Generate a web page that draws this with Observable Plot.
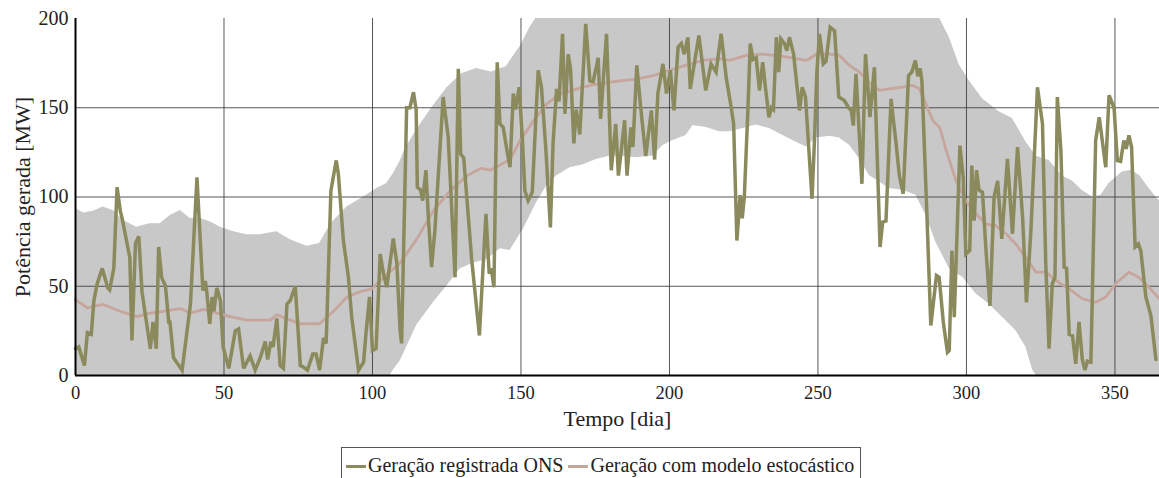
<!DOCTYPE html>
<html>
<head>
<meta charset="utf-8">
<script src="https://cdn.jsdelivr.net/npm/d3@7"></script>
<script src="https://cdn.jsdelivr.net/npm/@observablehq/plot@0.6"></script>
<style>
  body { margin: 0; background: white; font-family: "Liberation Serif", "Times New Roman", serif; }
  #chart { width: 1159px; }
  #chart svg { display: block; }
  #legend { display: inline-block; margin-left: 341px; margin-top: 4px; border: 1.5px solid #555; padding: 5px 6px 8px 4px;
            font-family: "Liberation Serif", "Times New Roman", serif; font-size: 20px; line-height: 24px; color: #222; white-space: nowrap; background: white; }
  .sw { display: inline-block; width: 20px; height: 3px; vertical-align: middle; margin-right: 2px; position: relative; top: -1px; }
</style>
</head>
<body>
<div id="chart"></div>
<div id="legend"></div>
<script>
// ---- Data ----
const onsDay = [0,1.1,3,4,5.3,6.2,7.3,9,10.9,11.5,12.9,14,15.1,15.7,18.3,19,20.2,21.3,22.4,25.2,26.1,27.2,28,29,30.3,31.4,31.8,33,35.9,38.7,40.9,42.9,43.7,44.2,45.2,46,46.6,47.6,48.8,49.7,51.6,53.8,54.9,56.6,58.8,60.5,62.2,63.9,64.7,65.8,66.5,67.8,68.9,70,71.2,72.3,74,75.7,76.5,78.1,79.9,81,82.2,83.5,84.4,86,87.8,88.5,90.2,91.9,93,95.3,97,97.8,99,100,101.2,102.6,103.7,104.8,107,108.2,109.3,109.8,111.5,112.6,113.8,114.7,115.1,116.2,116.9,118,118.8,119.9,121,123.8,125.5,127.8,128.9,129.7,130.7,133.4,136,138.2,139.3,140,140.9,142,142.9,144,145.7,146.3,147.4,148.1,149.4,150.5,151.3,152.4,153.8,155.8,156.9,158.4,159.9,160.8,162,162.8,164,164.8,165.9,166.7,167.8,168.6,169.8,171.8,173.2,174.3,176,176.8,178.8,180.4,181.9,182.8,184.9,185.7,187,187.7,189,190.2,192,193.9,195,196.1,197.8,199,200.3,201.5,202.9,204,205,206.2,207,209.9,212.2,214,215.7,217.4,219.1,220.8,221.6,222.7,223.8,224.5,225.2,226.4,227.2,228.1,229.2,230.3,231.4,232.3,233.5,234.3,235,236,236.8,237.5,238.7,239.5,240.4,241.8,243.8,244.7,245.8,248,248.8,249.6,250.5,251.8,252.7,254.1,255.6,257,258.9,260.3,261.2,261.9,262.8,264.8,266,267.5,269,270.9,271.8,272.9,274.6,276.3,277.4,278.7,280.5,281.6,282.8,283.6,284.4,285,286.6,288,289.9,290.8,292.2,293.6,294.2,295.1,295.9,297.8,298.9,299.8,301.1,301.8,302.6,303.4,304.2,305.4,306.5,307.9,309.3,310.5,311.9,313.8,315.5,317.2,318.9,320.2,321.7,323.9,325.6,326.7,327.8,328.9,329.8,330.6,331.8,332.9,333.7,334.6,335.7,336.8,337.9,339,339.9,340.7,341.9,343.5,344.7,346.9,348,349.7,350.8,351.9,353,353.8,354.7,355.6,356.8,357.9,358.7,360.4,362.1,363.8];
const onsMW = [15,16,5.6,24,23,42,51.5,60,49,48,60,105.5,92,88,66,19.6,74,78,46.7,15,30,15,72,55,50,30,30,10,3,40,111,47.6,53,47,29,44,36,49,42,16,4,25,26,4,11,3,10,19,9,19,16,32,5.6,4,40,42,50,5.6,5,3,12,12,3,21,18,103.6,120.5,113,75.6,55,32.7,3,7.5,23.5,44,14,15,68,57,49.5,76.7,63,25,18,150,150,158.7,149,105.5,104,98,115,88.7,60.7,81,156,133.5,55,171.8,124,122,65,22.4,90.6,57,60,49.5,175.5,141,139,122,116.7,158,149,161.5,131.6,103.6,98,102.7,171,161.5,126,83,130,160.6,153.6,191.4,146.6,180,171.6,130,149,135,197,165,164.6,178,143.8,191.4,115,141,112,143,112,139,128,173.7,152,123,148.5,121,158,174.6,158,171,148.5,184,186,180,189.5,160.6,190.5,159.7,174.6,170,191.4,167,150,141,75.6,101,88,100,148.5,186,177,178,159.7,175.5,161.5,144.7,150,149,189.5,170,188.6,186,182,189.5,180,148.5,161.5,156,99,130.7,169,191.4,174.6,176,195,193,156,154,150,148.5,140,169,107.4,180,144.7,172.7,72,86,86.6,155,130,112,101.8,168,170,176.5,167.6,172,165,94,28,56,55,30,13,14,70,32.7,128.8,111,68,70,117.6,86.8,115,104,102.7,72,39,100,109,76.6,121.4,79.4,128,88.7,41,81,161.5,141,62.6,15,51.4,55,156,126,60.7,60,23,22.4,6.5,30,9,3,8,7.5,131.6,144.7,116.7,157,150,120.4,120,131.6,127,134.5,128,72,73.7,70,44,33.6,9];

const modelDay = [0,4,9.3,15,20.6,25.2,29.7,35.3,38.7,43.2,47.6,52.1,57.7,65.6,67.8,72.3,75.7,82.2,83.5,86.9,91.4,95.9,99.8,103.7,109.3,115,120.6,126.2,131.9,136.4,139.7,143,146.3,149.7,154.2,158.6,163.1,168.7,174.3,178.8,183.3,188.9,194.5,200.2,205.8,211.4,217,220.3,225.9,231.5,237.1,242.7,246.1,249.4,253.9,257.2,260.6,264,267.3,270.7,274,278.5,281.9,284.2,286.4,288.7,291,293.2,296.5,299.8,303.2,306.5,309.9,313.3,316.6,320,323.4,326.7,331.2,334.6,339,343.5,346.9,350.2,354.7,358,361.4,365];
const modelMW = [42.5,37.9,39.8,36,33,35,36,37.5,35,37,35,33,31,31,34,31,29,29,31,36,44,47,48.6,55,63,76.7,92.5,103.6,112,116,115,118,121,131.6,142.7,152,157.6,160.4,163,164,165,166,168,171,174,176.5,177.5,176.5,179.3,180,179,177.5,176.5,180,180,179.3,173.7,170,164,159.7,160.6,161.5,162.5,160.6,152,142.7,139,126,109,98,90.6,85,84,79.4,73.7,66,57.9,57.9,52,48.6,43,41,44,51.4,57.9,55,49.5,43];

const bandUpDay = [0,2.8,6,9.3,12.7,16,20.6,25,28.5,31.9,35.3,38.7,42,45.5,48.8,53.3,57.7,62.2,67.8,72.3,78,82.2,86,91.4,97,101.5,104.8,107,109.3,111,115,120,125,130,135,140,145,150,153,155,291,294.2,297.6,301,305.4,311,315.5,320,323.4,327.8,332.3,335.7,339,342.4,345.3,348,352.5,355.5,358.3,361.4,364.4,365];
const bandUpMW = [93.6,91,92,94.4,92.5,87,83,85,85,89.6,92.5,88,88,86,83,80.6,78.8,78.8,80.6,76,72.4,74,85,94.4,100,104.7,107.5,113,120,127,138,150,161,169,172,170,173,185,195,200,200,189.5,174,165,155,147.7,144,131,123,120.4,111.7,109,103.6,100,101,107.5,114,115,112,105,98.7,98];

const bandLoDay = [0,106,107,109.3,115,120.6,125,129.5,134,138.5,143,146.3,150.8,155.3,158.6,162,166.5,171,175.4,180,183.3,188.9,194.5,197.8,201.2,205.6,207.9,212.4,216.9,220.3,224.8,229.2,233.7,238.2,242.7,246.1,249.4,253.9,257.2,260.6,264,267.3,270.7,274,278.5,283,286.4,289.7,294.2,298.7,303.2,307.6,312.1,316.6,320,322.3,323.5,365];
const bandLoMW = [0,0,3,8,28.5,41,50,59.7,63,65,71,70,82,97,106,111.7,116.4,118,121,123,123,122,123,128.8,131.6,134.5,140,139,136.5,136.5,138.4,140.3,138.4,134.5,130.7,128,133,134,133,129,121.4,112,108.4,104.7,103.8,101,89.6,74.7,60,55,45.8,40,32.7,25.2,15.9,3,0,0];

const xTicks = [0,50,100,150,200,250,300,350];
const yTicks = [0,50,100,150,200];
const xLabel = "Tempo [dia]";
const yLabel = "Potência gerada [MW]";
const seriesNames = ["Geração registrada ONS", "Geração com modelo estocástico"];
const seriesColors = ["#8a8a5d", "#c6a69c"];

// ---- Build tables ----
const ons = onsDay.map((d,i) => ({day: d, mw: onsMW[i]}));
const model = modelDay.map((d,i) => ({day: d, mw: modelMW[i]}));
const up = bandUpDay.map((d,i) => ({day: d, mw: bandUpMW[i]}));
const lo = bandLoDay.map((d,i) => ({day: d, mw: bandLoMW[i]}));

const chart = Plot.plot({
  width: 1159,
  height: 443,
  marginLeft: 75,
  marginRight: 0,
  marginTop: 18,
  marginBottom: 68,
  style: {fontFamily: "Liberation Serif, serif", fontSize: "18px", color: "#222", background: "white"},
  x: {domain: [0, 365]},
  y: {domain: [0, 200]},
  marks: [
    Plot.areaY(up, {x: "day", y: "mw", fill: "#c8c8c8", clip: true}),
    Plot.areaY(lo, {x: "day", y: "mw", fill: "white", clip: true}),
    Plot.gridX(xTicks.filter(t => t > 0), {stroke: "#3a3a3a", strokeOpacity: 0.85, strokeWidth: 1}),
    Plot.gridY(yTicks.filter(t => t > 0 && t < 200), {stroke: "#3a3a3a", strokeOpacity: 0.85, strokeWidth: 1}),
    Plot.axisX({ticks: xTicks, tickSize: 0, tickPadding: 10, fontSize: 18.5, label: null}),
    Plot.axisY({ticks: yTicks, tickSize: 0, tickPadding: 7, fontSize: 20, label: null}),
    Plot.text([xLabel], {text: d => d, frameAnchor: "bottom", dy: 50, fontSize: 22, fill: "#222"}),
    Plot.text([yLabel], {text: d => d, frameAnchor: "left", textAnchor: "middle", dx: -53, rotate: -90, fontSize: 22, fill: "#222"}),
    Plot.lineY(model, {x: "day", y: "mw", stroke: seriesColors[1], strokeWidth: 2.8}),
    Plot.lineY(ons, {x: "day", y: "mw", stroke: seriesColors[0], strokeWidth: 3.5, strokeLinejoin: "miter", strokeMiterlimit: 3}),
    Plot.ruleX([0], {stroke: "black", strokeWidth: 2}),
    Plot.ruleY([0], {stroke: "black", strokeWidth: 2})
  ]
});
document.getElementById("chart").appendChild(chart);

document.getElementById("legend").innerHTML = seriesNames.map((n,i) =>
  `<span class="sw" style="background:${seriesColors[i]}"></span>${n}`).join("&nbsp;");
</script>
</body>
</html>
